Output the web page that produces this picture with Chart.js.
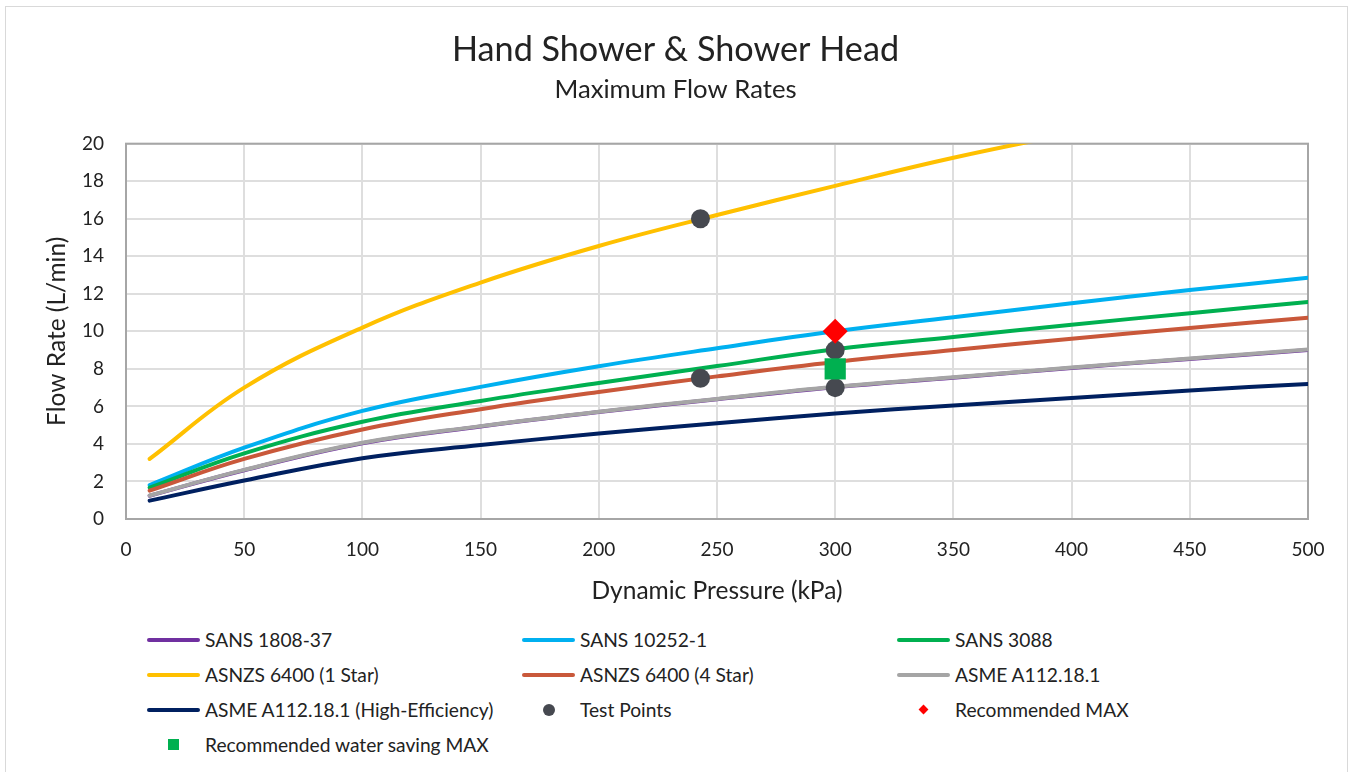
<!DOCTYPE html>
<html>
<head>
<meta charset="utf-8">
<title>Hand Shower &amp; Shower Head</title>
<script src="https://cdn.jsdelivr.net/npm/chart.js@4.4.1/dist/chart.umd.min.js"></script>
<style>
  html, body { margin: 0; padding: 0; background: #fff; }
  body { width: 1351px; height: 772px; position: relative; overflow: hidden; font-family: Lato, "Open Sans", sans-serif; }
  #frame { position: absolute; left: 5px; top: 6px; width: 1343px; height: 820px; border: 1.5px solid #d9d9d9; box-sizing: border-box; }
  #wrap { position: absolute; left: 0; top: 0; width: 1351px; height: 620px; }
  #legend { position: absolute; left: 147px; top: 622px; display: grid; grid-template-columns: 375px 375px 375px; grid-auto-rows: 35px; font-size: 19.2px; color: #222; }
  .item { display: flex; align-items: center; white-space: nowrap; }
  .mk { width: 53px; height: 14px; margin-right: 5px; display: flex; align-items: center; justify-content: center; }
</style>
</head>
<body>
<div id="frame"></div>
<div id="wrap"><canvas id="chart"></canvas></div>
<div id="legend"></div>
<script>
// Dynamic pressure (kPa) at which each standard's maximum flow is plotted
const pressure = [10, 50, 100, 150, 200, 250, 300, 350, 400, 450, 500];

// Maximum flow rate (L/min) per standard
const sans1808   = [1.24, 2.60, 4.04, 4.93, 5.70, 6.38, 7.02, 7.53, 8.05, 8.53, 9.00];
const sans10252  = [1.81, 3.80, 5.76, 7.04, 8.14, 9.10, 10.00, 10.75, 11.50, 12.20, 12.85];
const sans3088   = [1.67, 3.50, 5.18, 6.29, 7.25, 8.15, 9.05, 9.70, 10.35, 10.97, 11.56];
const asnzs1Star = [3.20, 7.00, 10.20, 12.60, 14.55, 16.20, 17.75, 19.25, 20.55, 21.75, 22.90];
const asnzs4Star = [1.51, 3.20, 4.77, 5.85, 6.77, 7.60, 8.37, 9.00, 9.61, 10.18, 10.72];
const asme       = [1.25, 2.62, 4.06, 4.95, 5.72, 6.40, 7.05, 7.55, 8.07, 8.55, 9.03];
const asmeHE     = [0.98, 2.05, 3.24, 3.94, 4.55, 5.10, 5.62, 6.05, 6.45, 6.85, 7.20];

// Measured points
const testPressure = [243, 243, 300, 300];
const testFlow     = [16, 7.5, 9, 7];

// Recommendations
const recMaxPressure = [300];
const recMaxFlow     = [10];
const recSavePressure = [300];
const recSaveFlow     = [8];

// Axis tick settings
const xTicks = { min: 0, max: 500, step: 50 };
const yTicks = { min: 0, max: 20, step: 2 };

const FONT = 'Lato, "Open Sans", sans-serif';
const TEXT = '#222';

const pairs = (xs, ys) => xs.map((x, i) => ({ x: x, y: ys[i] }));

function curve(label, values, color) {
  return {
    label: label,
    data: pairs(pressure, values),
    borderColor: color,
    backgroundColor: color,
    borderWidth: 4,
    pointRadius: 0,
    pointHoverRadius: 0,
    tension: 0.4,
    borderCapStyle: 'round',
    fill: false,
    clip: 0
  };
}

function marks(label, xs, ys, color, style, radius) {
  return {
    label: label,
    data: pairs(xs, ys),
    showLine: false,
    borderColor: color,
    backgroundColor: color,
    borderWidth: 0,
    pointStyle: style,
    pointRadius: radius,
    pointHoverRadius: radius,
    clip: false
  };
}

const datasets = [
  curve('SANS 1808-37', sans1808, '#7030a0'),
  curve('SANS 10252-1', sans10252, '#00b0f0'),
  curve('SANS 3088', sans3088, '#00b050'),
  curve('ASNZS 6400 (1 Star)', asnzs1Star, '#ffc000'),
  curve('ASNZS 6400 (4 Star)', asnzs4Star, '#c9583a'),
  curve('ASME A112.18.1', asme, '#a5a5a5'),
  curve('ASME A112.18.1 (High-Efficiency)', asmeHE, '#002060'),
  marks('Test Points', testPressure, testFlow, '#464950', 'circle', 9.5),
  marks('Recommended MAX', recMaxPressure, recMaxFlow, '#ff0000', 'rectRot', 12.5),
  marks('Recommended water saving MAX', recSavePressure, recSaveFlow, '#00b050', 'rect', 15)
];
// later series paint over earlier ones
datasets.forEach((d, i) => { d.order = datasets.length - i; });

// plot-area frame
const plotFrame = {
  id: 'plotFrame',
  beforeDatasetsDraw(chart) {
    const a = chart.chartArea, ctx = chart.ctx;
    ctx.save();
    ctx.strokeStyle = '#a6a6a6';
    ctx.lineWidth = 2;
    ctx.strokeRect(a.left, a.top, a.right - a.left, a.bottom - a.top);
    ctx.restore();
  }
};

const chart = new Chart(document.getElementById('chart'), {
  type: 'line',
  data: { datasets: datasets },
  plugins: [plotFrame],
  options: {
    responsive: true,
    maintainAspectRatio: false,
    animation: false,
    events: [],
    layout: { padding: { left: 43, right: 43, top: 0, bottom: 1 } },
    plugins: {
      legend: { display: false },
      tooltip: { enabled: false },
      title: {
        display: true,
        text: 'Hand Shower & Shower Head',
        color: TEXT,
        font: { family: FONT, size: 34.2, weight: 'normal', lineHeight: 1.2 },
        padding: { top: 29.5, bottom: 0 }
      },
      subtitle: {
        display: true,
        text: 'Maximum Flow Rates',
        color: TEXT,
        font: { family: FONT, size: 25.7, weight: 'normal', lineHeight: 1.2 },
        padding: { top: 3.7, bottom: 38.6 }
      }
    },
    scales: {
      x: {
        type: 'linear',
        min: xTicks.min,
        max: xTicks.max,
        ticks: { stepSize: xTicks.step, color: TEXT, padding: 19, font: { family: FONT, size: 19 } },
        grid: { color: '#dedede', lineWidth: 2, drawTicks: false },
        border: { display: false },
        title: {
          display: true,
          text: 'Dynamic Pressure (kPa)',
          color: TEXT,
          font: { family: FONT, size: 24.5, lineHeight: 1.2 },
          padding: { top: 0, bottom: 13.3 }
        },
        afterFit(scale) { scale.height = 100; }
      },
      y: {
        type: 'linear',
        min: yTicks.min,
        max: yTicks.max,
        ticks: { stepSize: yTicks.step, color: TEXT, padding: 22, font: { family: FONT, size: 19 } },
        grid: { color: '#dedede', lineWidth: 2, drawTicks: false },
        border: { display: false },
        title: {
          display: true,
          text: 'Flow Rate (L/min)',
          color: TEXT,
          font: { family: FONT, size: 24.5, lineHeight: 28 / 24.5 },
          padding: { top: 0, bottom: 0 }
        },
        afterFit(scale) { scale.width = 83; }
      }
    }
  }
});

// legend laid out as a three-column grid under the chart
const legendEl = document.getElementById('legend');
chart.data.datasets.forEach(ds => {
  const item = document.createElement('div');
  item.className = 'item';
  const mk = document.createElement('span');
  mk.className = 'mk';
  const sw = document.createElement('span');
  if (ds.showLine === false) {
    if (ds.pointStyle === 'circle') {
      sw.style.cssText = 'width:12px;height:12px;border-radius:50%;background:' + ds.backgroundColor;
    } else if (ds.pointStyle === 'rectRot') {
      sw.style.cssText = 'width:7px;height:7px;transform:rotate(45deg);background:' + ds.backgroundColor;
    } else {
      sw.style.cssText = 'width:11px;height:11px;background:' + ds.backgroundColor;
    }
  } else {
    sw.style.cssText = 'width:53px;height:4px;border-radius:2px;background:' + ds.borderColor;
  }
  mk.appendChild(sw);
  const tx = document.createElement('span');
  tx.textContent = ds.label;
  item.appendChild(mk);
  item.appendChild(tx);
  legendEl.appendChild(item);
});
</script>
</body>
</html>
